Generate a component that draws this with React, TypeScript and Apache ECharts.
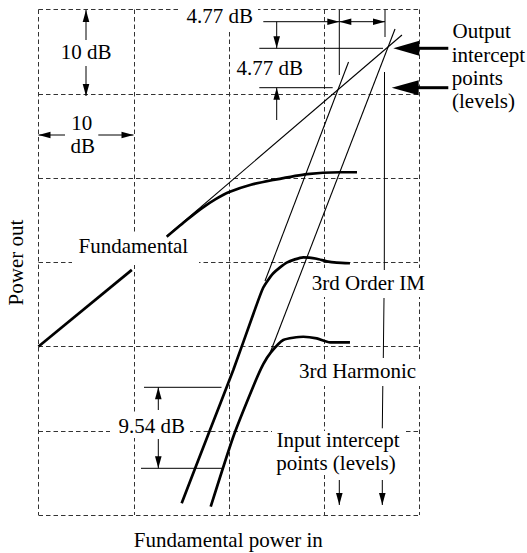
import React, { useEffect, useRef } from "react";
import * as echarts from "echarts";

// Data in dB units: x = fundamental power in, y = power out (10 dB per grid cell)
const fundamentalLinear = [[0, 20], [9.8, 29.1]];
const fundamentalCompression = [
  [13.46, 33.03], [15.56, 35.01], [17.13, 36.4], [18.6, 37.5], [20.1, 38.37],
  [22.3, 39.2], [24.62, 39.76], [28.19, 40.47], [31.65, 40.68], [33.44, 40.68],
];
const thirdOrderIM = [
  [15.03, 1.39], [17.8, 9.5], [20.45, 17.21], [22.6, 24.0], [23.6, 27.0],
  [24.65, 28.69], [26.06, 29.95], [27.8, 30.59], [29.21, 30.42], [30.26, 30.11],
  [31.31, 29.95], [32.7, 29.88],
];
const thirdHarmonic = [
  [18.08, 0.99], [20.45, 9.29], [22.6, 15.4], [23.6, 17.9], [24.4, 19.3],
  [25.7, 20.77], [27.8, 21.16], [29.21, 20.97], [30.6, 20.5], [32.7, 20.5],
];
const fundamentalExtrapolation = [[13.49, 33.12], [38.16, 56.97]];
const imExtrapolation = [[23.78, 27.77], [32.55, 53.77]];
const harmonicExtrapolation = [[24.31, 19.23], [37.43, 57.69]];

const xTicks = [0, 10, 20, 30, 40];
const yTicks = [0, 10, 20, 30, 40, 50, 60];

const L = (x1: number, y1: number, x2: number, y2: number, w = 1) => ({
  type: "line", z: 3, silent: true,
  shape: { x1, y1, x2, y2 },
  style: { stroke: "#000", lineWidth: w },
});
const H = (tx: number, ty: number, dir: string, len = 12, hw = 3.3) => {
  let pts: number[][] = [];
  if (dir === "up") pts = [[tx, ty], [tx - hw, ty + len], [tx + hw, ty + len]];
  if (dir === "down") pts = [[tx, ty], [tx - hw, ty - len], [tx + hw, ty - len]];
  if (dir === "left") pts = [[tx, ty], [tx + len, ty - hw], [tx + len, ty + hw]];
  if (dir === "right") pts = [[tx, ty], [tx - len, ty - hw], [tx - len, ty + hw]];
  return { type: "polygon", z: 3, silent: true, shape: { points: pts }, style: { fill: "#000" } };
};
const T = (text: string, x: number, y: number, align = "center", rotation = 0) => ({
  type: "text", z: 4, silent: true, x, y, rotation,
  style: {
    text, fill: "#000", fontSize: 21, fontFamily: "Liberation Serif",
    align, verticalAlign: "middle", textAlign: align, textVerticalAlign: "middle",
  },
});
const R = (x: number, y: number, width: number, height: number) => ({
  type: "rect", z: 1, silent: true,
  shape: { x, y, width, height },
  style: { fill: "#fff" },
});

export default function App() {
  const ref = useRef<HTMLDivElement>(null);
  useEffect(() => {
    if (!ref.current) return;
    const chart = echarts.init(ref.current, null, { renderer: "svg" });
    const thick = (name: string, data: number[][], smooth: number | boolean) => ({
      name, type: "line", data, smooth, symbol: "none", silent: true, z: 2,
      lineStyle: { color: "#000", width: 2.7 },
    });
    const thin = (name: string, data: number[][]) => ({
      name, type: "line", data, symbol: "none", silent: true, z: 2,
      lineStyle: { color: "#000", width: 1.1 },
    });
    const split = { show: true, lineStyle: { type: [4.5, 3], color: "#333", width: 1 } };
    chart.setOption({
      animation: false,
      backgroundColor: "#fff",
      textStyle: { fontFamily: "Liberation Serif" },
      grid: { left: 38.5, top: 9.5, width: 381, height: 505.5 },
      xAxis: {
        type: "value", min: xTicks[0], max: xTicks[xTicks.length - 1], interval: 10,
        axisLine: { show: false }, axisTick: { show: false }, axisLabel: { show: false },
        splitLine: split,
      },
      yAxis: {
        type: "value", min: yTicks[0], max: yTicks[yTicks.length - 1], interval: 10,
        axisLine: { show: false }, axisTick: { show: false }, axisLabel: { show: false },
        splitLine: split,
      },
      series: [
        thick("Fundamental", fundamentalLinear, false),
        thick("Fundamental (compression)", fundamentalCompression, 0.2),
        thick("3rd Order IM", thirdOrderIM, 0.2),
        thick("3rd Harmonic", thirdHarmonic, 0.2),
        thin("Fundamental extrapolation", fundamentalExtrapolation),
        thin("3rd Order IM extrapolation", imExtrapolation),
        thin("3rd Harmonic extrapolation", harmonicExtrapolation),
      ],
      graphic: [
        // white masks that break the dashed grid under labels
        R(181, 0, 77, 29),
        R(72, 233, 127, 32),
        R(308, 268, 119, 29),
        R(294, 359, 127, 27),
        R(110, 413, 80, 25),
        R(272, 431, 132, 44),
        // 10 dB vertical
        L(86, 10, 86, 40), H(86, 10, "up"),
        L(86, 66, 86, 96), H(86, 96, "down"),
        T("10 dB", 86, 52.3),
        // 10 dB horizontal
        L(38.5, 135, 65, 135), H(38.5, 135, "left"),
        L(98.3, 135, 133.5, 135), H(133.5, 135, "right"),
        T("10", 81.7, 123), T("dB", 82.7, 146.3),
        // 4.77 dB horizontal (top)
        T("4.77 dB", 219.8, 16.3),
        L(263.3, 21.7, 339.3, 21.7), H(339.3, 21.7, "right"),
        L(339.3, 21.7, 385, 21.7), H(339.3, 21.7, "left"), H(385, 21.7, "right"),
        L(339.3, 10, 339.3, 75),
        L(385, 10, 385, 37),
        L(384.5, 72, 384.3, 270), L(384, 298, 383.3, 358), L(382.8, 386, 382.3, 428.3),
        // 4.77 dB vertical
        L(259.3, 48.3, 383, 48.3),
        L(259.3, 87.7, 332.7, 87.7),
        L(276.7, 21.7, 276.7, 48.3), H(276.7, 48.3, "down"),
        L(276.7, 120, 276.7, 87.7), H(276.7, 87.7, "up"),
        T("4.77 dB", 269.7, 68),
        // output intercept arrows
        L(417, 48.3, 448.3, 48.3, 3), H(393.3, 48.3, "left", 26, 7.5),
        L(417, 87.7, 448.3, 87.7, 3), H(391.7, 87.7, "left", 27, 7.5),
        T("Output", 452.5, 30.7, "left"),
        T("intercept", 451.7, 54.7, "left"),
        T("points", 451.7, 78, "left"),
        T("(levels)", 452, 101.3, "left"),
        // curve labels
        T("Fundamental", 133.3, 246.3),
        T("3rd Order IM", 368.3, 283),
        T("3rd Harmonic", 357.5, 371.3),
        // 9.54 dB
        L(144, 387.3, 221.5, 387.3),
        L(141, 468.3, 223, 468.3),
        L(158.3, 387.3, 158.3, 410), H(158.3, 387.3, "up"),
        L(158.3, 439, 158.3, 468.3), H(158.3, 468.3, "down"),
        T("9.54 dB", 151.7, 425.7),
        // input intercept points
        T("Input intercept", 338, 439.7),
        T("points (levels)", 336, 463),
        L(339.3, 480, 339.3, 505), H(339.3, 505, "down"),
        L(382.3, 480, 382.3, 505), H(382.3, 505, "down"),
        // axis titles
        T("Power out", 16.3, 262.5, "center", Math.PI / 2),
        T("Fundamental power in", 228.3, 539.7),
      ],
    });
    return () => chart.dispose();
  }, []);
  return (
    <div
      ref={ref}
      style={{ position: "absolute", left: 0, top: 0, width: 527, height: 553, background: "#fff" }}
    />
  );
}
